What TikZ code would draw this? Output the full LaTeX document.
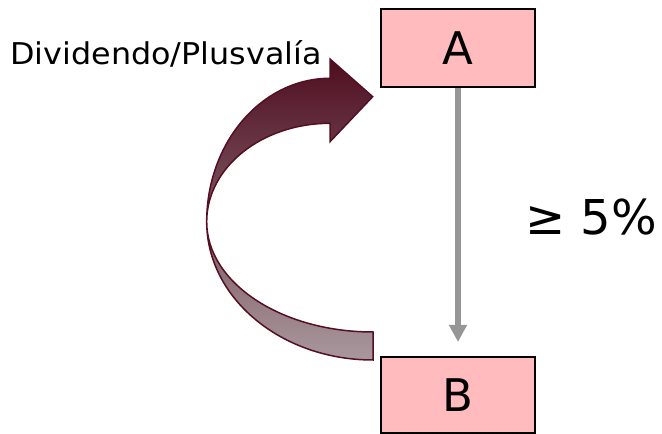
\documentclass[tikz,border=0pt]{standalone}
\usepackage{fontspec}
\setmainfont{DejaVu Sans}
\newfontfamily\widefont[FakeStretch=1.06]{DejaVu Sans}
\usetikzlibrary{arrows.meta}
\definecolor{boxpink}{RGB}{255,187,190}
\definecolor{arrgray}{RGB}{150,150,150}
\definecolor{maroon}{RGB}{85,15,35}
\definecolor{ribtop}{RGB}{78,14,32}
\definecolor{ribbot}{RGB}{168,152,157}
\tikzset{
  entity/.style={draw=black, line width=1.6pt, fill=boxpink, minimum width=154pt, minimum height=78pt, inner sep=0pt, font=\fontsize{45}{50}\selectfont},
  link/.style={draw=arrgray, line width=6pt, -{Triangle[length=17pt,width=17pt]}},
  lbl/.style={inner sep=0pt},
  ribbon/.style={draw=maroon, line width=1.5pt, top color=ribtop, bottom color=ribbot, shading angle=0}
}
\begin{document}
\begin{tikzpicture}[x=1pt,y=1pt]
\useasboundingbox (0,0) rectangle (662,434);
\node[entity] (A) at (458,386) {A};
\node[entity, minimum height=76pt] (B) at (458,39) {B};
\coordinate (tip) at (458,92);
\draw[link] (A.south) -- (tip);
\node[lbl, font=\widefont\fontsize{30}{34}\selectfont] (div) at (166,380) {Dividendo/Plusvalía};
\node[lbl, font=\fontsize{48}{52}\selectfont] (pct) at (591,217) {≥ 5\%};
% curved arrow
\path[ribbon] (206.7,212.3)
  arc[start angle=180, end angle=90, x radius=123.3, y radius=143.4]
  -- (330,375) -- (372.7,337.3) -- (330,292.3) -- (330,310.7)
  arc[start angle=90, end angle=180, x radius=123.3, y radius=98.4]
  arc[start angle=180, end angle=270, x radius=166.3, y radius=110.3]
  -- (373,74)
  arc[start angle=270, end angle=180, x radius=166.3, y radius=138.3]
  -- cycle;
\end{tikzpicture}
\end{document}
